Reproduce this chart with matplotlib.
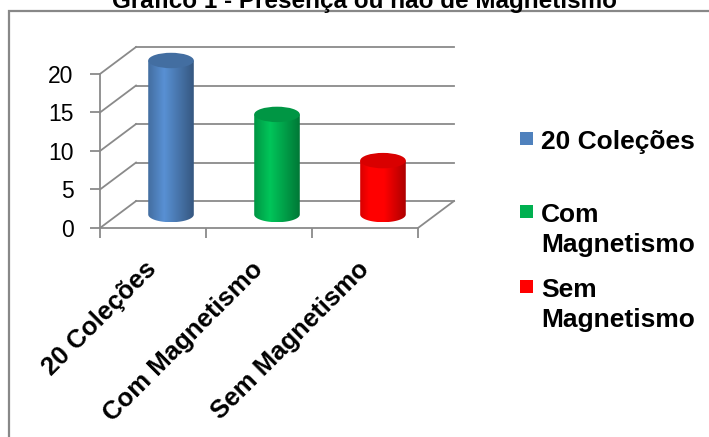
import numpy as np
import matplotlib
matplotlib.use("Agg")
import matplotlib.pyplot as plt
from matplotlib.patches import PathPatch, Ellipse, Rectangle
from matplotlib.path import Path
from matplotlib.colors import to_rgb

plt.rcParams['font.family'] = ['Liberation Sans', 'DejaVu Sans']

# Data
categories = ['20 Coleções', 'Com Magnetismo', 'Sem Magnetismo']
legend_labels = ['20 Coleções', 'Com\nMagnetismo', 'Sem\nMagnetismo']
values = [20, 13, 7]
colors = ['#4F81BD', '#00B050', '#FF0000']
y_ticks = [0, 5, 10, 15, 20]

TITLE = 'Gráfico 1 - Presença ou não de Magnetismo'
GRID = '#8a8a8a'

# depth of the 3d box in data units
DX = 0.34
DY = 3.5
BAR_W = 0.43
ELL_H = 2.0

W, H = 709, 437
fig = plt.figure(figsize=(W / 100, H / 100), dpi=100)

# outer chart border
fig.patches.append(Rectangle((9 / W, -0.1), 1.2, (H - 11) / H + 0.1, transform=fig.transFigure,
                             fill=False, edgecolor='#888888', linewidth=1.6))
fig.text(365 / W, 1 - 8 / H, TITLE, ha='center', va='baseline', fontsize=17.5, fontweight='bold')

ax = fig.add_axes([100 / W, 1 - 228 / H, 354 / W, 181 / H])
ax.set_xlim(0, 3 + DX)
ax.set_ylim(0, max(y_ticks) + DY)
ax.patch.set_visible(False)

n = len(categories)

# side wall and back wall gridlines
for v in y_ticks:
    ax.plot([0, DX], [v, v + DY], color=GRID, lw=1.3, clip_on=False, zorder=1)
    ax.plot([DX, n + DX], [v + DY, v + DY], color=GRID, lw=1.3, clip_on=False, zorder=1)
# right edge of the floor
ax.plot([n, n + DX], [0, DY], color=GRID, lw=1.3, clip_on=False, zorder=1)


def shade(color, t):
    base = np.array(to_rgb(color))
    f = np.interp(t, [0, 0.35, 1], [0.85, 1.12, 0.68])
    return np.clip(base[None, :] * f[:, None], 0, 1)


# cylinders
for i, (val, col) in enumerate(zip(values, colors)):
    cx = i + 0.5 + DX / 2
    base = DY / 2
    top = val + DY / 2
    x0, x1 = cx - BAR_W / 2, cx + BAR_W / 2
    ang = np.linspace(np.pi, 2 * np.pi, 40)
    arc = np.column_stack([cx + BAR_W / 2 * np.cos(ang), base + ELL_H / 2 * np.sin(ang)])
    verts = np.vstack([[x0, top], arc, [x1, top], [x0, top]])
    codes = [Path.MOVETO] + [Path.LINETO] * (len(verts) - 2) + [Path.CLOSEPOLY]
    body = PathPatch(Path(verts, codes), facecolor='none', edgecolor='none', transform=ax.transData)
    ax.add_patch(body)
    grad = shade(col, np.linspace(0, 1, 64))[None, :, :]
    im = ax.imshow(grad, extent=[x0, x1, base - ELL_H / 2, top], aspect='auto',
                   interpolation='bilinear', zorder=3)
    im.set_clip_path(body)
    topc = np.clip(np.array(to_rgb(col)) * 0.85, 0, 1)
    ax.add_patch(Ellipse((cx, top), BAR_W, ELL_H, facecolor=topc, edgecolor='none', zorder=4))

ax.set_xlim(0, 3 + DX)
ax.set_ylim(0, max(y_ticks) + DY)

# axes
for s in ['top', 'right']:
    ax.spines[s].set_visible(False)
for s in ['left', 'bottom']:
    ax.spines[s].set_color(GRID)
    ax.spines[s].set_linewidth(1.3)
ax.spines['left'].set_bounds(0, max(y_ticks))
ax.spines['bottom'].set_bounds(0, n)

ax.set_yticks(y_ticks)
ax.tick_params(axis='y', length=7, width=1.3, color=GRID, pad=12, labelsize=16.5)

ax.set_xticks(np.arange(n + 1))
ax.set_xticklabels([])
ax.tick_params(axis='x', which='major', length=7, width=1.3, color=GRID)
ax.set_xticks(np.arange(n) + 0.5, minor=True)
ax.set_xticklabels(categories, minor=True, rotation=45, ha='right', va='center',
                   rotation_mode='anchor', fontsize=18.5, fontweight='bold')
ax.tick_params(axis='x', which='minor', length=0, pad=27)

# legend
leg_y = [142, 215, 290]
for lab, col, y in zip(legend_labels, colors, leg_y):
    fig.patches.append(Rectangle((520 / W, 1 - (y + 3) / H), 13 / W, 13 / H,
                                 transform=fig.transFigure, facecolor=col, edgecolor='none'))
    fig.text(541 / W, 1 - (y - 12) / H, lab, ha='left', va='top', fontsize=19,
             fontweight='bold', linespacing=1.3)

fig.savefig('out.png', dpi=100)
